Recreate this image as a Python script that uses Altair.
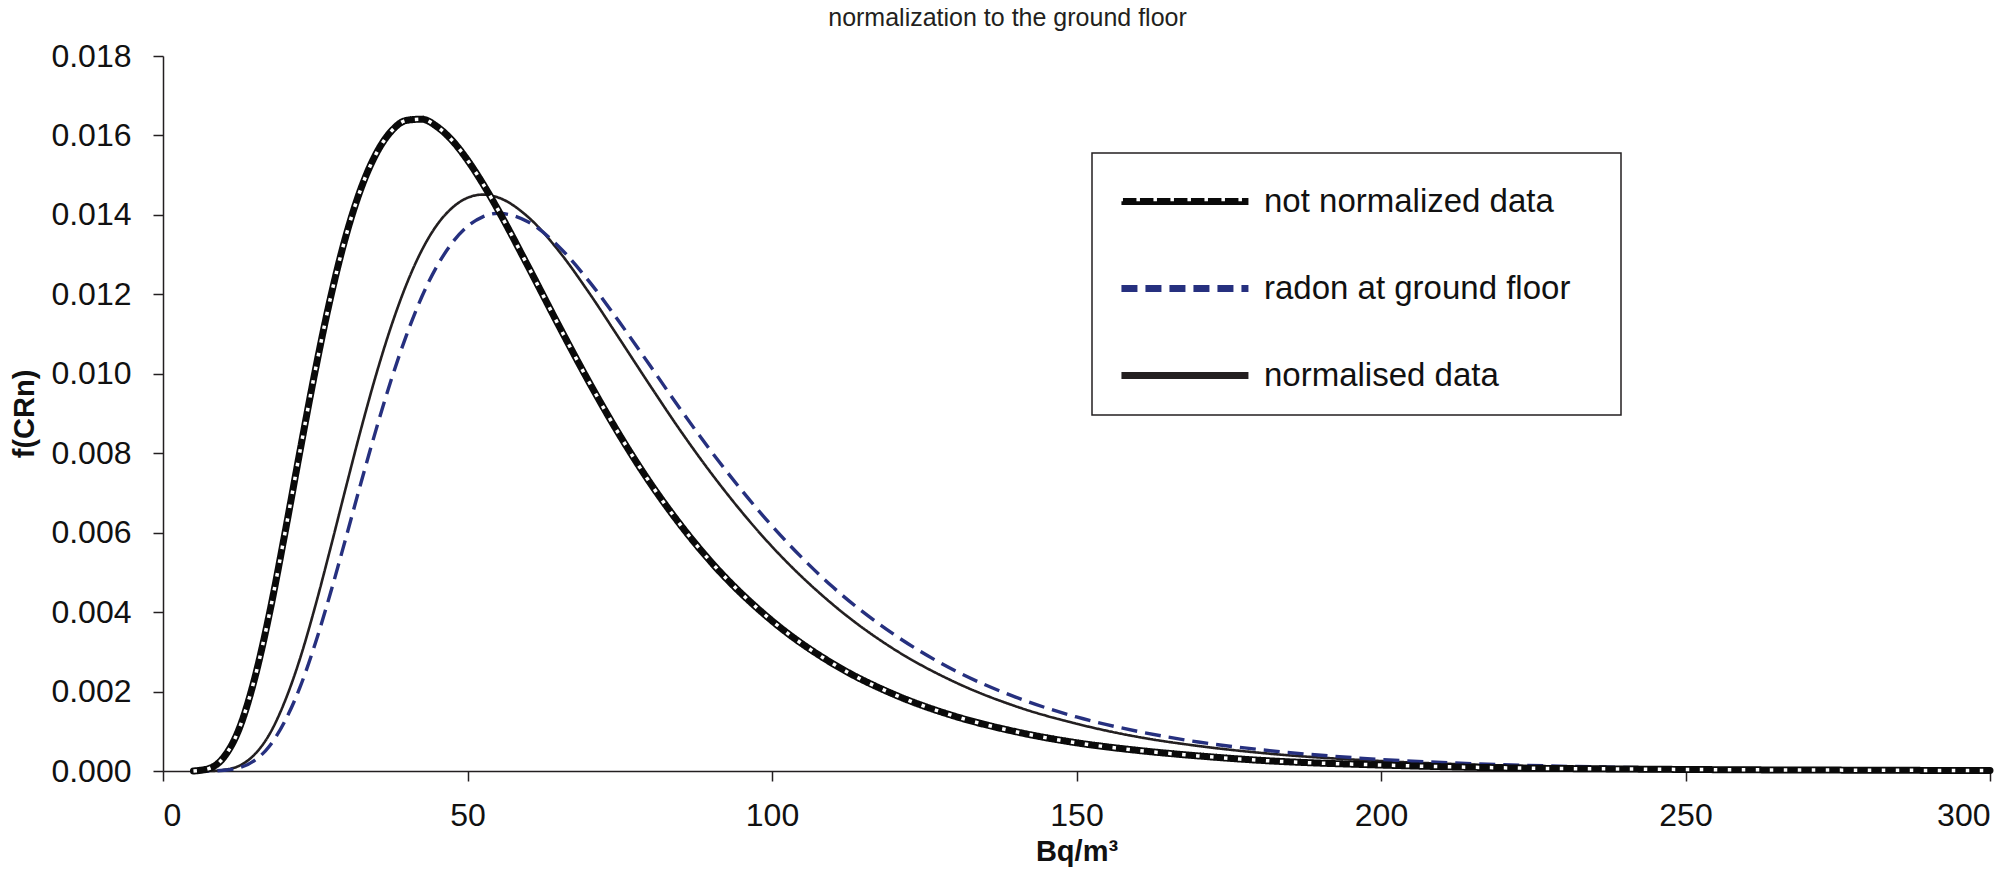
import altair as alt
import pandas as pd

# ---- data ----
x_vals = [5, 7.5, 10, 12.5, 15, 17.5, 20, 22.5, 25, 27.5, 30, 32.5, 35, 37.5, 40, 42.5,
          45, 47.5, 50, 52.5, 55, 60, 65, 70, 75, 80, 85, 90, 100, 110, 120, 130, 140,
          150, 160, 170, 180, 200, 220, 240, 260, 280, 300]

not_normalized = [0.0, 0.00006, 0.00035, 0.00106, 0.00230, 0.00398, 0.00597, 0.00806,
                  0.01008, 0.01191, 0.01345, 0.01466, 0.01554, 0.01611, 0.01638, 0.01641,
                  0.01622, 0.01587, 0.01538, 0.01479, 0.01413, 0.01269, 0.01121, 0.00978,
                  0.00845, 0.00725, 0.00619, 0.00526, 0.00378, 0.00270, 0.00193, 0.00138,
                  0.00099, 0.00071, 0.00052, 0.00038, 0.00027, 0.00015, 0.00008, 0.00005,
                  0.00003, 0.00002, 0.00001]

ground_floor = [0.0, 0.0, 0.00002, 0.00008, 0.00026, 0.00063, 0.00125, 0.00211,
                0.00321, 0.00448, 0.00585, 0.00725, 0.00860, 0.00986, 0.01098, 0.01194,
                0.01271, 0.01330, 0.01371, 0.01395, 0.01404, 0.01382, 0.01320, 0.01232,
                0.01129, 0.01020, 0.00910, 0.00805, 0.00617, 0.00463, 0.00344, 0.00253,
                0.00186, 0.00136, 0.00100, 0.00073, 0.00054, 0.00029, 0.00016, 0.00009,
                0.00005, 0.00003, 0.00002]

normalised = [0.0, 0.0, 0.00003, 0.00013, 0.00041, 0.00093, 0.00175, 0.00283,
              0.00415, 0.00561, 0.00712, 0.00860, 0.00998, 0.01121, 0.01226, 0.01311,
              0.01375, 0.01418, 0.01443, 0.01451, 0.01444, 0.01394, 0.01309, 0.01203,
              0.01087, 0.00970, 0.00856, 0.00750, 0.00565, 0.00419, 0.00307, 0.00224,
              0.00163, 0.00119, 0.00086, 0.00063, 0.00046, 0.00025, 0.00014, 0.00008,
              0.00004, 0.00003, 0.00002]

series_names = ["not normalized data", "radon at ground floor", "normalised data"]
x_ticks = [0, 50, 100, 150, 200, 250, 300]
y_ticks = [0.0, 0.002, 0.004, 0.006, 0.008, 0.010, 0.012, 0.014, 0.016, 0.018]

rows = []
for name, vals in zip(series_names, [not_normalized, ground_floor, normalised]):
    for xv, yv in zip(x_vals, vals):
        rows.append({"x": xv, "y": yv, "series": name})
df = pd.DataFrame(rows)

FONT = "Liberation Sans"
INK = "#231f20"

color_scale = alt.Scale(domain=series_names, range=["#0a0a0a", "#26307f", INK])
dash_scale = alt.Scale(domain=series_names, range=[[1, 0], [16, 8], [1, 0]])

sym_path = "M-0.6,0L3.4,0"
legend_common = dict(orient="none", legendX=929, legendY=97, padding=13,
                     symbolType=sym_path, symbolSize=4032, labelOffset=88,
                     rowPadding=34, labelFont=FONT, labelFontSize=33, labelLimit=600)

legend_main = alt.Legend(strokeColor=INK, symbolStrokeWidth=7, labelColor="#111111",
                         labelExpr="datum.label + '\u00a0\u00a0\u00a0\u00a0\u200b'",
                         title="\u00a0", titleOrient="bottom", titleFontSize=8, titlePadding=1,
                         zindex=1, **legend_common)
legend_dots = alt.Legend(symbolStrokeWidth=3.5, symbolDash=[3.5, 13.5], labelExpr="''",
                         title="", zindex=2, **legend_common)

x_axis = alt.Axis(values=x_ticks, grid=False, title="Bq/m³", labelPadding=19,
                  titleY=80, titleBaseline="middle")
y_axis = alt.Axis(values=y_ticks, format=".3f", grid=False, title="f(CRn)",
                  labelPadding=22, titleX=-139, titleY=357.5, titleAngle=270,
                  titleAlign="center", titleBaseline="middle")

xenc = alt.X("x:Q", scale=alt.Scale(domain=[0, 300], nice=False), axis=x_axis)
yenc = alt.Y("y:Q", scale=alt.Scale(domain=[0, 0.018], nice=False), axis=y_axis)


def series_layer(name, width, cap):
    return alt.Chart(df).transform_filter(alt.datum.series == name).mark_line(
        strokeWidth=width, interpolate="monotone", strokeCap=cap, strokeJoin="round"
    ).encode(
        x=xenc,
        y=yenc,
        color=alt.Color("series:N", scale=color_scale, legend=legend_main),
        strokeDash=alt.StrokeDash("series:N", scale=dash_scale, legend=legend_main),
    )


solid = series_layer("normalised data", 2.6, "butt")
dashed = series_layer("radon at ground floor", 3.4, "butt")
thick = series_layer("not normalized data", 7, "round")

dots = alt.Chart(df).transform_filter(
    alt.datum.series == "not normalized data"
).transform_calculate(ov="'not normalized data'").mark_line(
    strokeWidth=3.5, strokeDash=[3.5, 10.5], strokeCap="butt", interpolate="monotone"
).encode(
    x=xenc,
    y=yenc,
    stroke=alt.Stroke("ov:N", scale=alt.Scale(range=["#ffffff"]), legend=legend_dots),
)

chart = alt.layer(solid, dashed, thick, dots).properties(
    width=1827,
    height=715,
    autosize=alt.AutoSizeParams(type="none"),
    padding={"left": 155, "top": 48, "right": 15, "bottom": 110},
    title=alt.TitleParams("normalization to the ground floor", font=FONT, fontSize=25,
                          fontWeight="normal", color=INK, anchor="middle", frame="group",
                          dx=-69, dy=11, offset=0, baseline="alphabetic"),
).configure_view(stroke="transparent").configure_axis(
    domainColor=INK, domainWidth=1.5, tickColor=INK, tickWidth=1.5, tickSize=10,
    labelFont=FONT, labelFontSize=32, labelColor="#111111",
    titleFont=FONT, titleFontSize=29, titleFontWeight="bold", titleColor="#111111",
).configure_legend(strokeWidth=1.5)

chart.save("out.html", embed_options={"renderer": "svg", "actions": False})
